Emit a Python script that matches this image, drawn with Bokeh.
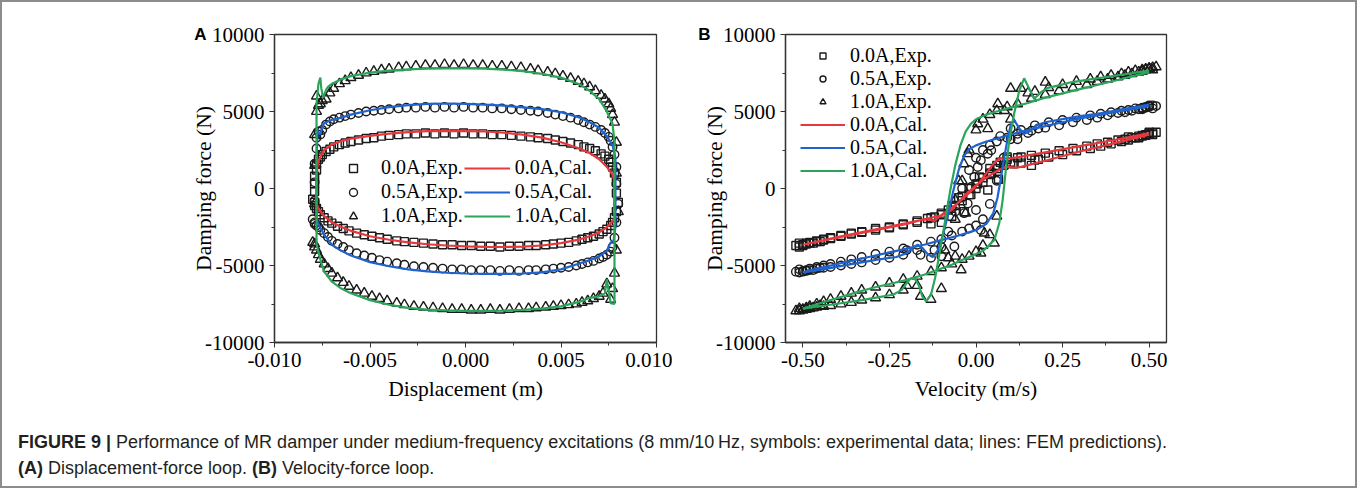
from bokeh.plotting import figure
from bokeh.models import (Range1d, FixedTicker, NumeralTickFormatter, Legend,
                          LegendItem, Div, LinearAxis)
from bokeh.layouts import row, column
from bokeh.embed import file_html
from bokeh.resources import INLINE

# ---------------- data: panel A (displacement-force) ----------------
# experimental samples in time order (one full cycle), shared displacement positions
a_disp = [
    -0.0080, -0.0079, -0.0079, -0.0079, -0.0078, -0.0078, -0.0077, -0.0076, -0.0075, -0.0073,
    -0.0071, -0.0069, -0.0066, -0.0063, -0.0060, -0.0056, -0.0052, -0.0048, -0.0044, -0.0040,
    -0.0035, -0.0031, -0.0026, -0.0021, -0.0016, -0.0011, -0.0006, -0.0001, 0.0004, 0.0009,
    0.0014, 0.0019, 0.0024, 0.0029, 0.0034, 0.0038, 0.0043, 0.0047, 0.0051, 0.0055,
    0.0059, 0.0062, 0.0065, 0.0068, 0.0071, 0.0073, 0.0075, 0.0076, 0.0077, 0.0078,
    0.0079, 0.0079, 0.0080, 0.0079, 0.0078, 0.0077, 0.0076, 0.0074, 0.0072, 0.0070,
    0.0067, 0.0064, 0.0061, 0.0058, 0.0054, 0.0050, 0.0046, 0.0042, 0.0037, 0.0033,
    0.0028, 0.0023, 0.0018, 0.0013, 0.0008, 0.0003, -0.0002, -0.0007, -0.0012, -0.0017,
    -0.0022, -0.0027, -0.0032, -0.0036, -0.0041, -0.0045, -0.0049, -0.0053, -0.0057, -0.0061,
    -0.0064, -0.0067, -0.0070, -0.0072, -0.0074, -0.0076, -0.0077, -0.0078, -0.0079, -0.0079]
a_exp_00 = [
    -700, -200, 300, 800, 1200, 1600, 1900, 2050, 2200, 2400,
    2550, 2700, 2850, 2950, 3050, 3150, 3250, 3300, 3400, 3450,
    3500, 3550, 3550, 3600, 3550, 3600, 3550, 3600, 3550, 3550,
    3500, 3500, 3450, 3400, 3350, 3300, 3250, 3150, 3050, 2950,
    2850, 2700, 2600, 2450, 2250, 2100, 1900, 1700, 1400, 1000,
    400, -300, -900, -1500, -1900, -2200, -2400, -2650, -2800, -2950,
    -3100, -3200, -3300, -3400, -3500, -3550, -3600, -3650, -3700, -3700,
    -3750, -3750, -3800, -3750, -3750, -3700, -3700, -3650, -3650, -3600,
    -3550, -3500, -3450, -3400, -3300, -3200, -3100, -3000, -2900, -2750,
    -2600, -2450, -2250, -2100, -1900, -1700, -1500, -1300, -1100, -900]
a_exp_05 = [
    -2000, -800, 400, 1600, 2600, 3300, 3700, 3500, 3800, 4150,
    4350, 4500, 4600, 4700, 4800, 4900, 5000, 5050, 5100, 5150,
    5200, 5250, 5250, 5300, 5250, 5300, 5250, 5300, 5250, 5250,
    5200, 5200, 5150, 5100, 5050, 5000, 4900, 4800, 4700, 4600,
    4450, 4300, 4150, 4000, 3800, 3600, 3350, 3100, 2700, 2200,
    1400, 300, -1000, -2200, -3200, -3800, -4100, -4300, -4450, -4550,
    -4700, -4800, -4900, -5000, -5100, -5150, -5200, -5250, -5300, -5300,
    -5350, -5300, -5350, -5300, -5300, -5300, -5250, -5250, -5200, -5150,
    -5100, -5050, -4950, -4850, -4750, -4650, -4500, -4350, -4200, -4000,
    -3800, -3600, -3400, -3150, -2900, -2700, -2500, -2400, -2300, -2200]
a_exp_10 = [
    -3500, -1000, 1500, 3500, 5000, 6000, 5400, 5500, 5700, 5800,
    6200, 6500, 6800, 7000, 7200, 7350, 7500, 7600, 7700, 7750,
    7850, 7900, 7950, 8000, 8000, 8050, 8000, 8050, 8000, 8000,
    7950, 7950, 7900, 7850, 7750, 7650, 7550, 7450, 7300, 7150,
    6950, 6800, 6600, 6350, 6050, 5800, 5500, 5200, 4800, 4300,
    3000, 1000, -1500, -4000, -5500, -6500, -7200, -6200, -6800, -7000,
    -7150, -7300, -7400, -7500, -7550, -7600, -7650, -7700, -7750, -7800,
    -7800, -7850, -7900, -7850, -7900, -7900, -7850, -7850, -7800, -7750,
    -7700, -7650, -7550, -7450, -7300, -7150, -7000, -6800, -6600, -6350,
    -6100, -5800, -5500, -5200, -4900, -4600, -4300, -4000, -3800, -3600]

# FEM predictions, panel A
a_cal00_x = [-0.0078, -0.0078, -0.00775, -0.0077, -0.0074, -0.0070, -0.0065, -0.0060, -0.0050, -0.0040,
             -0.0030, -0.0020, -0.0010, 0.0000, 0.0010, 0.0020, 0.0030, 0.0040, 0.0050, 0.0060,
             0.0065, 0.0070, 0.0074, 0.0077, 0.0078, 0.0078, 0.0078, 0.0076, 0.0073, 0.0070,
             0.0065, 0.0060, 0.0050, 0.0040, 0.0030, 0.0020, 0.0010, 0.0000, -0.0010, -0.0020,
             -0.0030, -0.0040, -0.0050, -0.0060, -0.0065, -0.0070, -0.0074, -0.0077, -0.0078]
a_cal00_y = [-1000, 500, 1500, 1800, 2500, 2850, 3080, 3230, 3420, 3560,
             3660, 3720, 3745, 3730, 3700, 3620, 3500, 3300, 3000, 2580,
             2300, 1900, 1400, 900, 500, -500, -1900, -2300, -2600, -2850,
             -3100, -3300, -3550, -3700, -3780, -3800, -3790, -3760, -3700, -3620,
             -3500, -3330, -3100, -2750, -2500, -2200, -1800, -1300, -1000]
a_cal05_x = [-0.0078, -0.0078, -0.00775, -0.0076, -0.0075, -0.0074, -0.0070, -0.0065, -0.0060, -0.0050,
             -0.0040, -0.0030, -0.0020, -0.0010, 0.0000, 0.0010, 0.0020, 0.0030, 0.0040, 0.0050,
             0.0060, 0.0065, 0.0070, 0.0074, 0.0077, 0.00785, 0.00785, 0.00775, 0.0076, 0.0074,
             0.0070, 0.0065, 0.0060, 0.0050, 0.0040, 0.0030, 0.0020, 0.0010, 0.0000, -0.0010,
             -0.0020, -0.0030, -0.0040, -0.0050, -0.0060, -0.0065, -0.0070, -0.0074, -0.0077, -0.0078]
a_cal05_y = [-2000, 1500, 3750, 3500, 4000, 4250, 4450, 4600, 4800, 5080,
             5280, 5420, 5500, 5520, 5500, 5450, 5380, 5270, 5150, 4950,
             4600, 4300, 3950, 3400, 2800, 2000, -2500, -3400, -3500, -4050,
             -4400, -4650, -4850, -5250, -5450, -5520, -5550, -5550, -5520, -5470,
             -5380, -5250, -5050, -4780, -4350, -4050, -3650, -3000, -2300, -2000]
a_cal10_x = [-0.0078, -0.0078, -0.0078, -0.0077, -0.0076, -0.00755, -0.00745, -0.0073, -0.0072, -0.0070,
             -0.0065, -0.0060, -0.0050, -0.0040, -0.0030, -0.0020, -0.0010, 0.0000, 0.0010, 0.0020,
             0.0030, 0.0040, 0.0050, 0.0060, 0.0065, 0.0070, 0.0074, 0.0077, 0.0078, 0.0078,
             0.0078, 0.0076, 0.0074, 0.0073, 0.0070, 0.0065, 0.0060, 0.0050, 0.0040, 0.0030,
             0.0020, 0.0010, 0.0000, -0.0010, -0.0020, -0.0030, -0.0040, -0.0050, -0.0060, -0.0065,
             -0.0070, -0.0074, -0.0076, -0.0078]
a_cal10_y = [-3600, 1000, 5500, 6800, 7200, 6500, 5900, 6400, 6600, 6800,
             7100, 7300, 7520, 7650, 7730, 7780, 7800, 7800, 7780, 7720,
             7620, 7450, 7200, 6750, 6350, 5800, 5000, 4200, 3000, -2000,
             -7500, -7450, -5900, -6800, -7000, -7100, -7350, -7650, -7800, -7880,
             -7930, -7950, -7950, -7920, -7860, -7750, -7550, -7250, -6800, -6500,
             -6050, -5400, -4600, -3600]

# ---------------- data: panel B (velocity-force) ----------------
b_vel = [
    0.50, 0.50, 0.49, 0.48, 0.47, 0.45, 0.43, 0.41, 0.38, 0.35,
    0.32, 0.28, 0.24, 0.20, 0.16, 0.12, 0.09, 0.06, 0.04, 0.02,
    0.00, -0.02, -0.04, -0.06, -0.08, -0.10, -0.13, -0.17, -0.21, -0.25,
    -0.29, -0.33, -0.36, -0.39, -0.42, -0.44, -0.46, -0.48, -0.49, -0.50,
    -0.51, -0.50, -0.49, -0.48, -0.46, -0.44, -0.42, -0.39, -0.36, -0.33,
    -0.29, -0.25, -0.21, -0.17, -0.13, -0.10, -0.07, -0.04, -0.02, 0.00,
    0.02, 0.04, 0.06, 0.08, 0.10, 0.13, 0.17, 0.21, 0.25, 0.29,
    0.33, 0.36, 0.39, 0.42, 0.44, 0.46, 0.48, 0.49, 0.50, 0.51]
b_exp_00 = [
    3650, 3550, 3500, 3450, 3400, 3300, 3200, 3150, 3000, 2900,
    2750, 2600, 2450, 2300, 2150, 2000, 1900, 1500, 900, 400,
    0, -400, -800, -1100, -1400, -1700, -2300, -2200, -2350, -2550,
    -2700, -2850, -2950, -3100, -3250, -3350, -3450, -3550, -3600, -3700,
    -3800, -3650, -3550, -3500, -3400, -3300, -3200, -3050, -2900, -2800,
    -2600, -2500, -2300, -2100, -1900, -1600, -1100, -500, 0, 300,
    700, 1000, 1300, 1500, 1700, 1650, 1850, 2050, 2200, 2450,
    2600, 2750, 2900, 3050, 3150, 3300, 3400, 3450, 3550, 3600]
b_exp_05 = [
    5400, 5300, 5250, 5200, 5150, 5050, 4950, 4900, 4750, 4600,
    4450, 4300, 4100, 3950, 3750, 3550, 3300, 3050, 2800, 2500,
    2000, 1200, 0, -1500, -2800, -3800, -4500, -4000, -4300, -4500,
    -4650, -4800, -4900, -5000, -5100, -5150, -5200, -5300, -5350, -5400,
    -5450, -5350, -5300, -5200, -5100, -5000, -4900, -4750, -4600, -4450,
    -4250, -4100, -3900, -3650, -3450, -3300, -3050, -2800, -2600, -2400,
    -2000, -1000, 500, 2000, 3200, 3800, 4100, 4300, 4450, 4600,
    4750, 4850, 4950, 5050, 5100, 5200, 5250, 5300, 5350, 5400]
b_exp_10 = [
    7800, 7750, 7700, 7600, 7550, 7450, 7350, 7250, 7100, 6950,
    6750, 6550, 6350, 6100, 5850, 5500, 5300, 5050, 4800, 4500,
    3800, 2500, 500, -2000, -4500, -6500, -7200, -6300, -6600, -6900,
    -7100, -7250, -7400, -7500, -7600, -7650, -7700, -7800, -7850, -7900,
    -7950, -7850, -7750, -7650, -7500, -7350, -7200, -7000, -6800, -6600,
    -6400, -6150, -5900, -5700, -5400, -5150, -4900, -4600, -4400, -4100,
    -3700, -3000, -1800, 1500, 4500, 6500, 6300, 6550, 6750, 6950,
    7100, 7250, 7350, 7450, 7550, 7650, 7700, 7750, 7800, 7850]
# further scattered experimental points read in the transition zone and at the ends
b_more_v00 = [0.04, 0.045, 0.034, 0.01, 0.005, -0.034, -0.07, -0.07, -0.12, -0.14,
              0.09, 0.11, 0.13, 0.16, 0.18, -0.05, 0.07, -0.10, 0.065, -0.015,
              0.52, 0.51, 0.47, 0.44, -0.52, -0.51, -0.47, -0.45]
b_more_f00 = [1300, 1000, -100, 750, 300, -1500, -1200, -1800, -1850, -1950,
              2050, 1600, 2050, 1500, 1900, -600, 1700, -2200, 600, -400,
              3650, 3500, 3300, 3350, -3700, -3550, -3550, -3450]
b_more_v05 = [-0.034, -0.024, -0.014, -0.005, 0.005, 0.014, 0.034, 0.044, -0.0625, 0.0,
              0.014, -0.16, -0.12, -0.10, 0.07, 0.10, 0.12, 0.15, 0.18, -0.20,
              0.52, 0.51, 0.48, -0.52, -0.51, -0.47, -0.45]
b_more_f05 = [-1600, -970, 100, 750, 1400, 1830, 2260, 2480, -3770, -1400,
              -2700, -4310, -4000, -4400, 3400, 3900, 3200, 3600, 3900, -4000,
              5350, 5200, 5150, -5400, -5250, -5300, -5150]
b_more_v10 = [-0.09, -0.06, -0.06, -0.03, -0.024, 0.005, 0.034, 0.063, 0.082, 0.053,
              0.024, -0.043, 0.014, -0.05, -0.035, 0.10, 0.15, -0.16, -0.20, 0.20,
              0.52, 0.51, 0.48, -0.52, -0.51, -0.47, -0.45]
b_more_f10 = [-4000, -4400, -750, -1600, 2260, 4200, 3880, 5500, 5060, -3550,
              -2900, -5280, -4200, 500, 1600, 6500, 6200, -7000, -6300, 6900,
              7900, 7700, 7650, -7950, -7800, -7750, -7600]

b_cal00_v = [0.50, 0.40, 0.30, 0.20, 0.15, 0.10, 0.067, 0.05, 0.03, 0.01, -0.01, -0.03, -0.05, -0.07,
             -0.09, -0.106, -0.12, -0.14, -0.16, -0.20, -0.30, -0.40, -0.50,
             -0.40, -0.30, -0.20, -0.15, -0.10, -0.07, -0.05, -0.03, 0.00, 0.03, 0.05, 0.07, 0.09,
             0.11, 0.13, 0.20, 0.30, 0.40, 0.50]
b_cal00_f = [3600, 3150, 2750, 2350, 2150, 1950, 1940, 1600, 1000, 400, -100, -500, -900, -1250,
             -1550, -1830, -2100, -2000, -2050, -2300, -2750, -3200, -3650,
             -3150, -2700, -2250, -2000, -1750, -1400, -900, -400, 200, 700, 1000, 1250, 1400,
             1350, 1400, 1800, 2400, 2950, 3500]
b_cal05_v = [0.50, 0.45, 0.40, 0.35, 0.30, 0.25, 0.20, 0.15, 0.10, 0.06, 0.03, 0.00, -0.02, -0.035,
             -0.05, -0.065, -0.08, -0.095, -0.11, -0.125, -0.14, -0.155, -0.168, -0.18, -0.20, -0.23,
             -0.28, -0.33, -0.38, -0.43, -0.47, -0.50,
             -0.45, -0.40, -0.35, -0.30, -0.25, -0.20, -0.15, -0.10, -0.05, 0.00, 0.03, 0.05, 0.062,
             0.072, 0.082, 0.092, 0.10, 0.11, 0.125, 0.139, 0.155, 0.175, 0.20, 0.25, 0.30, 0.35,
             0.40, 0.45, 0.50]
b_cal05_f = [5350, 5150, 4950, 4750, 4550, 4300, 4050, 3800, 3500, 3250, 3050, 2800, 2550, 2100,
             1200, -100, -1600, -3000, -4000, -4450, -4250, -3850, -3650, -3800, -4200, -4450,
             -4600, -4800, -5000, -5200, -5350, -5450,
             -5150, -4900, -4650, -4400, -4150, -3900, -3650, -3350, -3050, -2700, -2300, -1600, -600,
             700, 2100, 3300, 4100, 4450, 3900, 3550, 3700, 4100, 4300, 4500, 4700, 4850,
             5050, 5250, 5450]
b_cal10_v = [0.50, 0.45, 0.40, 0.35, 0.30, 0.25, 0.20, 0.15, 0.10, 0.06, 0.03, 0.00, -0.015, -0.03,
             -0.045, -0.06, -0.075, -0.09, -0.105, -0.118, -0.13, -0.144, -0.155, -0.165, -0.175,
             -0.188, -0.20, -0.215, -0.24, -0.28, -0.33, -0.38, -0.43, -0.47, -0.50,
             -0.45, -0.40, -0.35, -0.30, -0.25, -0.20, -0.15, -0.11, -0.07, -0.04, -0.005, 0.02,
             0.034, 0.053, 0.067, 0.077, 0.087, 0.096, 0.11, 0.125, 0.139, 0.154, 0.168, 0.1875,
             0.207, 0.24, 0.274, 0.32, 0.37, 0.43, 0.50]
b_cal10_f = [7540, 7280, 7000, 6720, 6450, 6180, 5900, 5550, 5250, 5000, 4800, 4500, 4200, 3700,
             2800, 1500, -200, -2200, -4200, -5800, -6900, -7330, -7000, -6300, -5900,
             -5820, -6150, -6600, -6900, -7050, -7250, -7420, -7580, -7700, -7800,
             -7450, -7110, -6780, -6460, -6200, -5930, -5600, -5280, -4950, -4650, -4310, -4050,
             -3770, -3340, -2260, -750, 1400, 3125, 4850, 6360, 7155, 6465, 5818, 6250,
             6530, 6700, 6896, 7050, 7220, 7420, 7650]

labels_exp = ["0.0A,Exp.", "0.5A,Exp.", "1.0A,Exp."]
labels_cal = ["0.0A,Cal.", "0.5A,Cal.", "1.0A,Cal."]
y_ticks = [-10000, -5000, 0, 5000, 10000]
y_minor = [-7500, -2500, 2500, 7500]
a_x_ticks = [-0.010, -0.005, 0.0, 0.005, 0.010]
a_x_minor = [-0.0075, -0.0025, 0.0025, 0.0075]
b_x_ticks = [-0.50, -0.25, 0.0, 0.25, 0.50]
b_x_minor = [-0.375, -0.125, 0.125, 0.375]

# ---------------- style ----------------
SERIF = "Liberation Serif"
SANS = "Liberation Sans"
RED, BLUE, GREEN = "#e8383d", "#1f63cf", "#2aa55a"
MK = "#1a1a1a"
AX = "#333333"


def make_fig(fw, mbl, mbr, mbt, mbb, xr, xticks, xminor, xfmt, xlabel, letter, letter_standoff):
    p = figure(frame_width=fw, frame_height=308, output_backend="svg", toolbar_location=None,
               x_range=Range1d(*xr), y_range=Range1d(-10000, 10000),
               min_border_left=mbl, min_border_right=mbr, min_border_top=mbt,
               min_border_bottom=mbb)
    p.grid.visible = False
    p.outline_line_color = AX
    p.outline_line_width = 1.3
    p.background_fill_color = "white"
    p.border_fill_color = "white"
    for ax, ticks, minor, fmt in ((p.xaxis[0], xticks, xminor, xfmt),
                                  (p.yaxis[0], y_ticks, y_minor, "0")):
        ax.ticker = FixedTicker(ticks=ticks, minor_ticks=minor)
        ax.formatter = NumeralTickFormatter(format=fmt)
        ax.axis_line_color = AX
        ax.axis_line_width = 1.3
        ax.major_tick_line_color = AX
        ax.minor_tick_line_color = AX
        ax.major_tick_in = 0
        ax.major_tick_out = 5
        ax.minor_tick_in = 0
        ax.minor_tick_out = 3
        ax.major_label_text_font = SERIF
        ax.major_label_text_font_size = "21px"
        ax.major_label_text_color = "black"
        ax.axis_label_text_font = SERIF
        ax.axis_label_text_font_size = "21.5px"
        ax.axis_label_text_font_style = "normal"
        ax.axis_label_text_color = "black"
    p.xaxis[0].axis_label = xlabel
    p.xaxis[0].major_label_standoff = 5
    p.xaxis[0].axis_label_standoff = 7
    p.yaxis[0].axis_label = "Damping force (N)"
    p.yaxis[0].major_label_standoff = 5
    p.yaxis[0].axis_label_standoff = -14
    # panel letter, drawn as the single label of an extra, invisible left axis
    lax = LinearAxis(ticker=FixedTicker(ticks=[10000], minor_ticks=[]),
                     major_label_overrides={10000: letter},
                     axis_line_color=None, major_tick_line_color=None,
                     minor_tick_line_color=None, major_tick_out=0, major_tick_in=0,
                     minor_tick_out=0, minor_tick_in=0,
                     major_label_standoff=letter_standoff,
                     major_label_text_font=SANS, major_label_text_font_style="bold",
                     major_label_text_font_size="17px", major_label_text_color="black")
    p.add_layout(lax, "left")
    return p


def draw(p, xs00, f00, xs05, f05, xs10, f10, cals):
    r_sq = p.scatter(xs00, f00, marker="square", size=8, fill_alpha=0,
                     line_color=MK, line_width=1.4)
    r_ci = p.scatter(xs05, f05, marker="circle", size=8.5, fill_alpha=0,
                     line_color=MK, line_width=1.4)
    r_tr = p.scatter(xs10, f10, marker="triangle", size=10, fill_alpha=0,
                     line_color=MK, line_width=1.4)
    lines = []
    for (cx, cy), col in zip(cals, (RED, BLUE, GREEN)):
        lines.append(p.line(cx, cy, line_color=col, line_width=2.2))
    return [r_sq, r_ci, r_tr], lines


# ---------------- panel A ----------------
pA = make_fig(382, 272, 16, 29, 80, (-0.010, 0.010), a_x_ticks, a_x_minor, "0.000",
              "Displacement (m)", "A", -17)
mA, lA = draw(pA, a_disp, a_exp_00, a_disp, a_exp_05, a_disp, a_exp_10,
              [(a_cal00_x, a_cal00_y), (a_cal05_x, a_cal05_y), (a_cal10_x, a_cal10_y)])
legA = Legend(items=[LegendItem(label=t, renderers=[r]) for t, r in zip(labels_exp + labels_cal, mA + lA)],
              location=(56, 115), ncols=2, orientation="vertical",
              label_text_font=SERIF, label_text_font_size="20px", label_text_color="black",
              glyph_width=46, glyph_height=20, label_height=20, label_standoff=5,
              spacing=1, padding=0, margin=0, border_line_alpha=0, background_fill_alpha=0)
pA.add_layout(legA)

# ---------------- panel B ----------------
pB = make_fig(381, 113, 179, 32, 77, (-0.55, 0.55), b_x_ticks, b_x_minor, "0.00",
              "Velocity (m/s)", "B", -10)
mB, lB = draw(pB, b_vel + b_more_v00, b_exp_00 + b_more_f00,
              b_vel + b_more_v05, b_exp_05 + b_more_f05,
              b_vel + b_more_v10, b_exp_10 + b_more_f10,
              [(b_cal00_v, b_cal00_f), (b_cal05_v, b_cal05_f), (b_cal10_v, b_cal10_f)])
legB = Legend(items=[LegendItem(label=t, renderers=[r]) for t, r in zip(labels_exp + labels_cal, mB + lB)],
              location=(15, 160),
              label_text_font=SERIF, label_text_font_size="20px", label_text_color="black",
              glyph_width=45, glyph_height=15, label_height=20, label_standoff=5,
              spacing=0, padding=0, margin=0, border_line_alpha=0, background_fill_alpha=0)
pB.add_layout(legB)

caption = Div(
    text=("<b>FIGURE 9 |</b> Performance of MR damper under medium-frequency excitations "
          "(8 mm/10\u2009Hz, symbols: experimental data; lines: FEM predictions).<br>"
          "<b>(A)</b> Displacement-force loop. <b>(B)</b> Velocity-force loop."),
    width=1343, height=57,
    styles={"font-family": "'Liberation Sans', Arial, sans-serif", "font-size": "18px",
            "line-height": "26px", "color": "#231f20", "padding-left": "11px",
            "padding-top": "5px", "box-sizing": "border-box", "white-space": "nowrap"})

page = column(row(pA, pB), caption,
              styles={"border": "2px solid #8c8c8c"})

open("out.html", "w").write(file_html(page, INLINE))
